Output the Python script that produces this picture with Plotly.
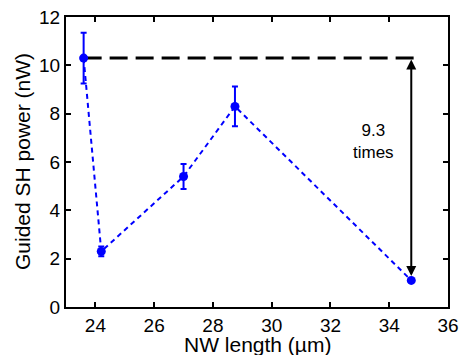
import plotly.graph_objects as go

nw_length = [23.6, 24.2, 27.0, 28.75, 34.75]
sh_power = [10.3, 2.3, 5.4, 8.3, 1.1]
sh_error = [1.05, 0.2, 0.52, 0.82, 0.05]
ref_level = 10.3
ratio_text = "9.3<br>times"
x_ticks = [24, 26, 28, 30, 32, 34, 36]
y_ticks = [0, 2, 4, 6, 8, 10, 12]

fig = go.Figure()
fig.add_trace(go.Scatter(
    x=[nw_length[0], 34.98], y=[ref_level, ref_level], mode="lines",
    line=dict(color="black", width=3, dash="18px,8px"), showlegend=False))
fig.add_trace(go.Scatter(
    x=nw_length, y=sh_power, mode="lines+markers",
    line=dict(color="#0000ff", width=2, dash="5px,4px"),
    marker=dict(color="#0000ff", size=9),
    error_y=dict(type="data", array=sh_error, color="#0000ff", thickness=2, width=3),
    showlegend=False))

fig.add_annotation(x=nw_length[4], y=1.28, ax=nw_length[4], ay=ref_level,
                   xref="x", yref="y", axref="x", ayref="y",
                   showarrow=True, arrowhead=2, arrowside="end+start",
                   arrowwidth=2, arrowsize=1, arrowcolor="black", text="")
fig.add_annotation(x=33.45, y=6.85, xref="x", yref="y", text=ratio_text,
                   showarrow=False, font=dict(size=17, color="black"))

fig.add_annotation(x=0.5, y=0, xref="paper", yref="paper", yshift=-37,
                   text="NW length (µm)", showarrow=False,
                   font=dict(size=21, color="black"), yanchor="middle")
fig.add_annotation(x=0, y=0.5, xref="paper", yref="paper", xshift=-44,
                   text="Guided SH power (nW)", showarrow=False, textangle=-90,
                   font=dict(size=21, color="black"), xanchor="center")

axis_common = dict(showline=True, linecolor="black", linewidth=2, mirror="ticks",
                   ticks="inside", ticklen=5, tickwidth=1.5, tickcolor="black",
                   showgrid=False, zeroline=False, automargin=False,
                   tickfont=dict(size=19, color="black"))
fig.update_xaxes(range=[23, 36], tickvals=x_ticks, **axis_common)
fig.update_yaxes(range=[0, 12], tickvals=y_ticks, **axis_common)

fig.update_layout(width=459, height=355, margin=dict(l=66, r=11, t=17, b=48, autoexpand=False),
                  plot_bgcolor="white", paper_bgcolor="white",
                  font=dict(family="Liberation Sans, Arial, sans-serif", color="black"))
fig.write_html("out.html", config={"displayModeBar": False},
               post_script="document.body.style.margin='0';document.body.style.overflow='hidden';")
